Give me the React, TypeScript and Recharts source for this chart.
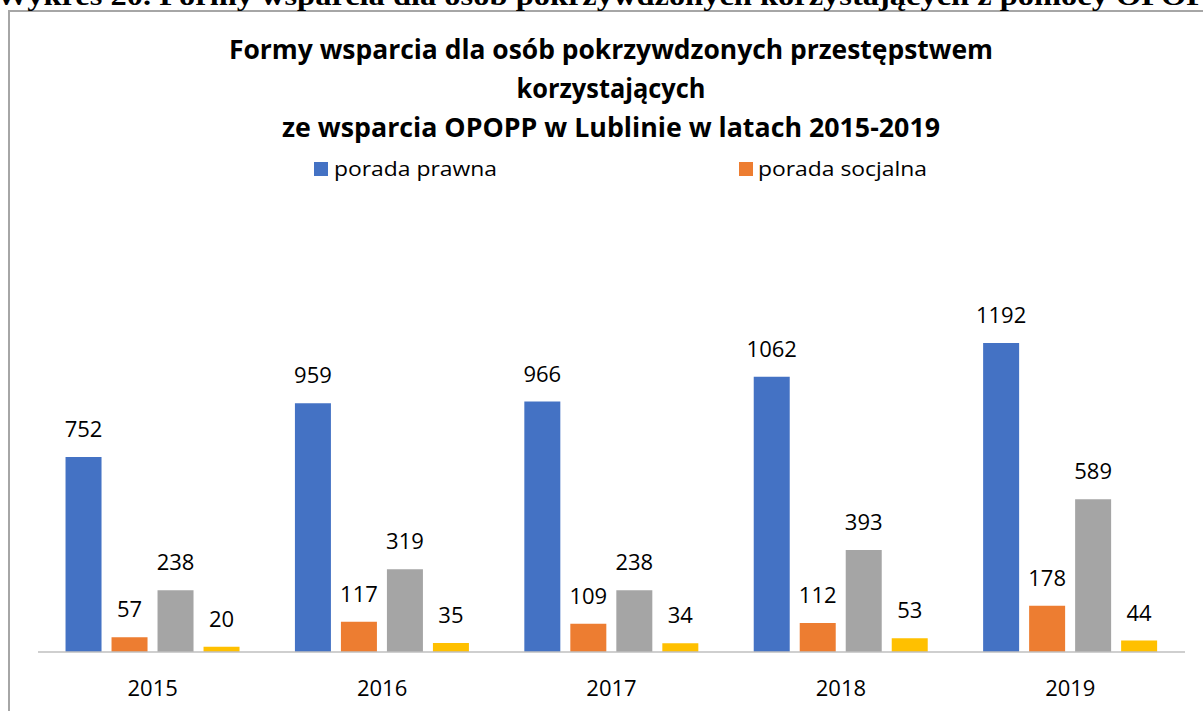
import React from 'react';
import { BarChart, Bar, XAxis, YAxis, LabelList } from 'recharts';

const years = ['2015', '2016', '2017', '2018', '2019'];
const poradaPrawna = [752, 959, 966, 1062, 1192];
const poradaSocjalna = [57, 117, 109, 112, 178];
const wsparciePsych = [238, 319, 238, 393, 589];
const inne = [20, 35, 34, 53, 44];

const seriesNames = ['porada prawna', 'porada socjalna', 'pomoc psychologiczna', 'inne'];
const colors = ['#4472C4', '#ED7D31', '#A5A5A5', '#FFC000'];

const data = years.map((y, i) => ({
  year: y,
  s0: poradaPrawna[i],
  s1: poradaSocjalna[i],
  s2: wsparciePsych[i],
  s3: inne[i],
}));

const FONT = '"Open Sans", "Noto Sans", sans-serif';

const Tick = (props: any) => {
  const { x, payload } = props;
  return (
    <text x={x} y={696} textAnchor="middle" fontFamily={FONT} fontSize={22} fill="#000">
      {payload.value}
    </text>
  );
};

export default function App() {
  return (
    <div style={{ position: 'fixed', left: 0, top: 0, width: 1203, height: 711, overflow: 'hidden', background: '#fff' }}>
      <svg width={1203} height={711} style={{ position: 'absolute', left: 0, top: 0 }}>
        <rect x={9} y={11} width={1300} height={800} fill="#fff" stroke="#a6a6a6" strokeWidth={2} />
        <text x={-4} y={5} fontFamily='"Liberation Serif", "DejaVu Serif", serif' fontWeight="bold" fontSize={27} fill="#000" textLength={1230} lengthAdjust="spacingAndGlyphs">
          Wykres 20. Formy wsparcia dla osób pokrzywdzonych korzystających z pomocy OPOPP
        </text>
      </svg>
      <div style={{ position: 'absolute', left: 0, top: 0 }}>
        <BarChart
          width={1203}
          height={711}
          data={data}
          margin={{ top: 289, right: 18, bottom: 0, left: 38 }}
          barCategoryGap="12%"
          barGap={10}
        >
          <XAxis
            dataKey="year"
            height={59}
            tickLine={false}
            axisLine={{ stroke: '#bfbfbf', strokeWidth: 1.5 }}
            tick={<Tick />}
          />
          <YAxis hide domain={[0, 1400]} />
          {['s0', 's1', 's2', 's3'].map((k, i) => (
            <Bar key={k} dataKey={k} name={seriesNames[i]} fill={colors[i]} isAnimationActive={false}>
              <LabelList dataKey={k} position="top" offset={20} fontFamily={FONT} fontSize={22} fill="#000" />
            </Bar>
          ))}
        </BarChart>
      </div>
      <svg width={1203} height={711} style={{ position: 'absolute', left: 0, top: 0, pointerEvents: 'none' }}>
        <g fontFamily={FONT} fontWeight="bold" fontSize={26} fill="#000" textAnchor="middle">
          <text x={611} y={59} textLength={764} lengthAdjust="spacingAndGlyphs">Formy wsparcia dla osób pokrzywdzonych przestępstwem</text>
          <text x={611} y={98} textLength={189} lengthAdjust="spacingAndGlyphs">korzystających</text>
          <text x={611} y={137} textLength={658} lengthAdjust="spacingAndGlyphs">ze wsparcia OPOPP w Lublinie w latach 2015-2019</text>
        </g>
        <rect x={314} y={162} width={14} height={14} fill={colors[0]} />
        <text x={334} y={176} fontFamily={FONT} fontSize={20} fill="#000" textLength={163} lengthAdjust="spacingAndGlyphs">{seriesNames[0]}</text>
        <rect x={739} y={162} width={14} height={14} fill={colors[1]} />
        <text x={758} y={176} fontFamily={FONT} fontSize={20} fill="#000" textLength={169} lengthAdjust="spacingAndGlyphs">{seriesNames[1]}</text>
      </svg>
    </div>
  );
}
